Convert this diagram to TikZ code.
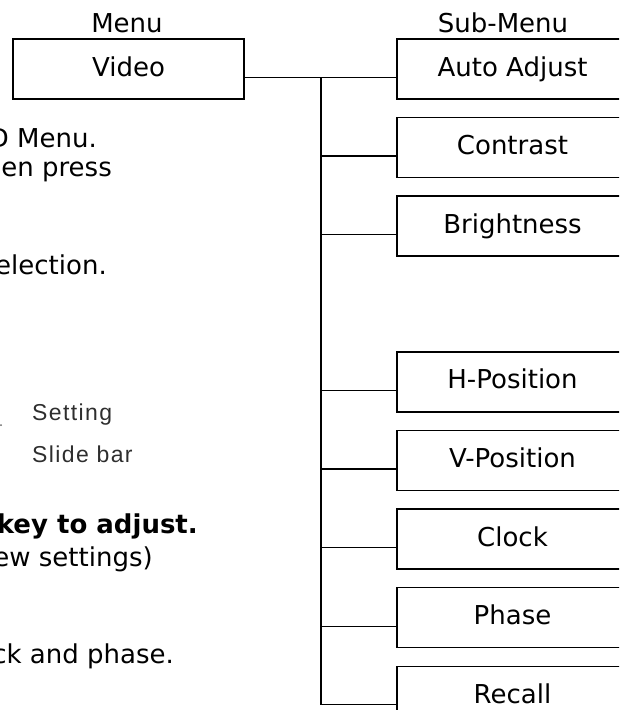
\documentclass[tikz,border=0pt]{standalone}
\usepackage{fontspec}
\setmainfont{DejaVu Sans}
\newfontfamily\slidefont[LetterSpace=6]{Liberation Sans}
\usetikzlibrary{positioning}

\begin{document}
\begin{tikzpicture}[
  x=1pt, y=-1pt,
  menubox/.style={rectangle, draw, line width=1.5pt, minimum width=231pt, minimum height=60pt, inner sep=0pt, text height=19pt, text depth=5pt},
  link/.style={line width=1.3pt},
  note/.style={anchor=base east, inner sep=0pt},
  slide/.style={anchor=base west, inner sep=0pt, text=black!82, font=\slidefont\fontsize{23}{27}\selectfont},
  font=\fontsize{26}{31}\selectfont
]
\useasboundingbox (0,0) rectangle (619,710);
\clip (0,0) rectangle (619,710);

% Headings
\node[anchor=base, inner sep=0pt] (menu) at (127,32) {Menu};
\node[anchor=base, inner sep=0pt] (submenu) at (503,32) {Sub-Menu};

% Blocks
\node[menubox] (video) at (128.5,69) {Video};
\node[menubox] (auto) at (512.5,69) {Auto Adjust};
\node[menubox, below=17.1pt of auto] (contrast) {Contrast};
\node[menubox, below=17.1pt of contrast] (bright) {Brightness};
\node[menubox, below=94.2pt of bright] (hpos) {H-Position};
\node[menubox, below=17.1pt of hpos] (vpos) {V-Position};
\node[menubox, below=17.1pt of vpos] (clock) {Clock};
\node[menubox, below=17.1pt of clock] (phase) {Phase};
\node[menubox, below=17.1pt of phase] (recall) {Recall};

% Connectors
\coordinate (trunk) at (321,0);
\foreach \s in {auto,contrast,bright,hpos,vpos,clock,phase,recall}{
  \coordinate (\s-in) at ([yshift=-8.5pt]\s.west);
  \draw[link] (trunk |- \s-in) -- (\s-in);
}
\draw[link] ([yshift=-8.5pt]video.east) -- (trunk |- auto-in);
\draw[link] (trunk |- auto-in) -- (trunk |- recall-in);

% Notes (cut at the left edge)
\node[note] (n1) at (97,147) {D Menu.};
\node[note] (n2) at (112,176) {en press};
\node[note] (n3) at (107,274) {election.};
\node[note, font=\fontsize{26}{31}\selectfont\bfseries] (n4) at (198,533) {key to adjust.};
\node[note] (n5) at (153,566) {ew settings)};
\node[note] (n6) at (174,663) {ck and phase.};

% Slide bar legend
\fill[black!60] (1,425) circle (1pt);
\node[slide] (setting) at (32,420) {Setting};
\node[slide] (slidebar) at (32,462) {Slide bar};

\end{tikzpicture}
\end{document}
